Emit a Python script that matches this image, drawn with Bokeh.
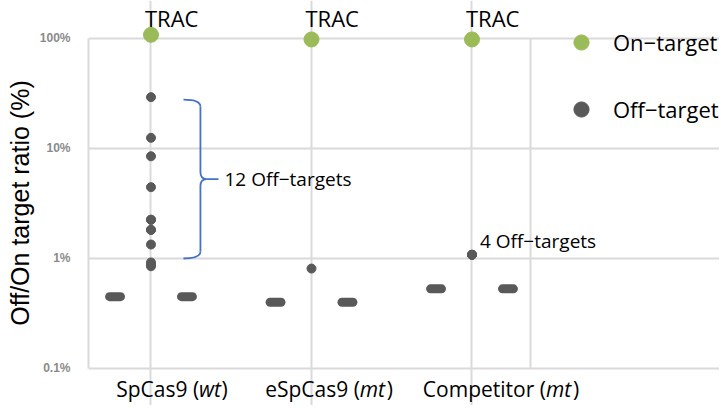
from bokeh.plotting import figure
from bokeh.models import Range1d, FixedTicker, Legend, LegendItem, Label
from bokeh.embed import file_html
from bokeh.resources import INLINE

# ---------------- data ----------------
categories = ["SpCas9", "eSpCas9", "Competitor"]
category_tags = ["wt", "mt", "mt"]
on_target_name = "TRAC"
on_target_pct = [108, 98, 98]
spcas9_off_pct = [29.3, 12.5, 8.5, 4.45, 2.25, 1.82, 1.34, 0.92, 0.85, 0.88, 1.82, 2.25]
espcas9_off_pct = [0.81]
competitor_off_pct = [1.08, 1.08, 1.08, 1.08]
background_pct = [0.45, 0.40, 0.53]
y_ticks = [0.1, 1, 10, 100]
y_tick_labels = ["0.1%", "1%", "10%", "100%"]
legend_labels = ["On\u2212target", "Off\u2212target"]
y_title = "Off/On target ratio (%)"

# ---------------- style ----------------
GREEN = "#9bbb59"
GRAY = "#595959"
GRID = "#dadada"
BLUE = "#4472c4"
FONT = "Open Sans"

cat_x = list(range(1, len(categories) + 1))
X_START = 0.6106          # visual frame left
X_VIS_END = 3.3645        # visual frame right
X_END = 4.5421            # canvas right (room for legend)
Y_MIN, Y_MAX = y_ticks[0], y_ticks[-1]

p = figure(width=719, height=405,
           x_range=Range1d(X_START, X_END), y_range=Range1d(0.04609, 221.5),
           y_axis_type="log", x_axis_location=None,
           output_backend="svg", toolbar_location=None,
           min_border_left=88, min_border_right=0, min_border_top=0, min_border_bottom=0)
p.outline_line_color = None
p.background_fill_color = "white"
p.border_fill_color = "white"

# vertical grid at constructs, limited to the visual frame
xt = FixedTicker(ticks=cat_x)
p.xgrid.ticker = xt
p.xgrid.bounds = (Y_MIN, Y_MAX)
p.xgrid.grid_line_color = GRID
p.xgrid.grid_line_width = 2

# y axis
yt = FixedTicker(ticks=y_ticks)
p.yaxis.ticker = yt
p.ygrid.ticker = yt
p.yaxis.bounds = (Y_MIN, Y_MAX)
p.ygrid.bounds = (X_START, X_VIS_END)
p.yaxis.major_label_overrides = dict(zip(y_ticks, y_tick_labels))
p.yaxis.major_label_text_font = "Liberation Sans"
p.yaxis.major_label_text_font_size = "12px"
p.yaxis.major_label_text_font_style = "bold"
p.yaxis.major_label_text_color = "#8a8a8a"
p.yaxis.major_label_standoff = 12
p.yaxis.axis_label = y_title
p.yaxis.axis_label_text_font = "Liberation Sans"
p.yaxis.axis_label_text_font_size = "25px"
p.yaxis.axis_label_text_font_style = "normal"
p.yaxis.axis_label_text_color = "black"
p.yaxis.axis_label_standoff = 3
p.yaxis.major_tick_line_color = None
p.yaxis.minor_tick_line_color = None
p.yaxis.axis_line_color = GRID
p.yaxis.axis_line_width = 2
p.ygrid.grid_line_color = GRID
p.ygrid.grid_line_width = 2

# right edge of the visual frame
p.segment(x0=[X_VIS_END], y0=[Y_MIN], x1=[X_VIS_END], y1=[Y_MAX], line_color=GRID, line_width=2)

# background clusters (two per construct)
side, half = 0.224, 0.034
bx0, bx1, by = [], [], []
for c, v in zip(cat_x, background_pct):
    for s in (-side, side):
        bx0.append(c + s - half)
        bx1.append(c + s + half)
        by.append(v)
p.segment(bx0, by, bx1, by, line_width=9, line_color=GRAY, line_cap="round")

# off-target points
off_groups = [spcas9_off_pct, espcas9_off_pct, competitor_off_pct]
off_x, off_y = [], []
for c, vals in zip(cat_x, off_groups):
    off_x += [c] * len(vals)
    off_y += vals
off_r = p.scatter(off_x, off_y, size=9, color=GRAY)

# on-target points
on_r = p.scatter(cat_x, on_target_pct, size=15, color=GREEN)

# TRAC labels
for c in cat_x:
    p.add_layout(Label(x=c, y=Y_MAX, x_offset=-6, y_offset=20.6, text=on_target_name,
                       text_font=FONT, text_font_size="22px", text_baseline="alphabetic",
                       text_align="left", text_color="black"))

# category labels with italic tags
REG = {'S': .537, 'p': .613, 'C': .633, 'a': .556, 's': .477, '9': .572, ' ': .26, '(': .296,
       ')': .296, 'e': .561, 'o': .604, 'm': .929, 't': .353, 'i': .253, 'r': .407}
ITA = {'w': .72, 'm': .93, 't': .35}
LS = 21
label_shift = [21, 17.5, 29]
for c, name, tag, sh in zip(cat_x, categories, category_tags, label_shift):
    main = name + " ("
    wm = sum(REG.get(ch, .55) for ch in main) * LS
    wt = sum(ITA.get(ch, .55) for ch in tag) * LS
    wc = REG[')'] * LS
    start = sh - (wm + wt + wc) / 2
    for txt, off, style in ((main, start, "normal"), (tag, start + wm, "italic"),
                            (")", start + wm + wt, "normal")):
        p.add_layout(Label(x=c, y=Y_MIN, x_offset=off, y_offset=-20.5, text=txt, text_font=FONT,
                           text_font_size=f"{LS}px", text_font_style=style,
                           text_baseline="alphabetic", text_align="left", text_color="black"))

# bracket for SpCas9 off-targets
top = max(spcas9_off_pct) * 0.95
bot = 1.0
mid = (top * bot) ** 0.5
f = 10 ** (7 / 110)
c0 = cat_x[0]
x_end, x_spine, x_knee, x_tip = c0 + 0.2025, c0 + 0.308, c0 + 0.3458, c0 + 0.4206
p.quadratic(x0=[x_end, x_spine, x_knee, x_spine], y0=[top, mid * f, mid, bot * f],
            x1=[x_spine, x_knee, x_spine, x_end], y1=[top / f, mid, mid / f, bot],
            cx=[x_spine] * 4, cy=[top, mid, mid, bot], line_color=BLUE, line_width=1.8)
p.segment(x0=[x_spine, x_spine, x_knee], y0=[top / f, mid / f, mid],
          x1=[x_spine, x_spine, x_tip], y1=[mid * f, bot * f, mid],
          line_color=BLUE, line_width=1.8)

p.add_layout(Label(x=x_tip, y=mid, x_offset=6, y_offset=0,
                   text=f"{len(spcas9_off_pct)} Off\u2212targets", text_font=FONT,
                   text_font_size="19px", text_baseline="alphabetic", text_color="black"))
p.add_layout(Label(x=cat_x[2], y=competitor_off_pct[0], x_offset=8, y_offset=13.6,
                   text=f"{len(competitor_off_pct)} Off\u2212targets", text_font=FONT,
                   text_font_size="19px", text_baseline="alphabetic", text_color="black"))

legend = Legend(items=[LegendItem(label=legend_labels[0], renderers=[on_r]),
                       LegendItem(label=legend_labels[1], renderers=[off_r])],
                location=(474, 277), glyph_width=38, glyph_height=38, label_height=38,
                label_standoff=13, spacing=29, padding=0, margin=0,
                border_line_color=None, background_fill_alpha=0,
                label_text_font=FONT, label_text_font_size="22px", label_text_color="black")
p.add_layout(legend)

open("out.html", "w").write(file_html(p, INLINE))
